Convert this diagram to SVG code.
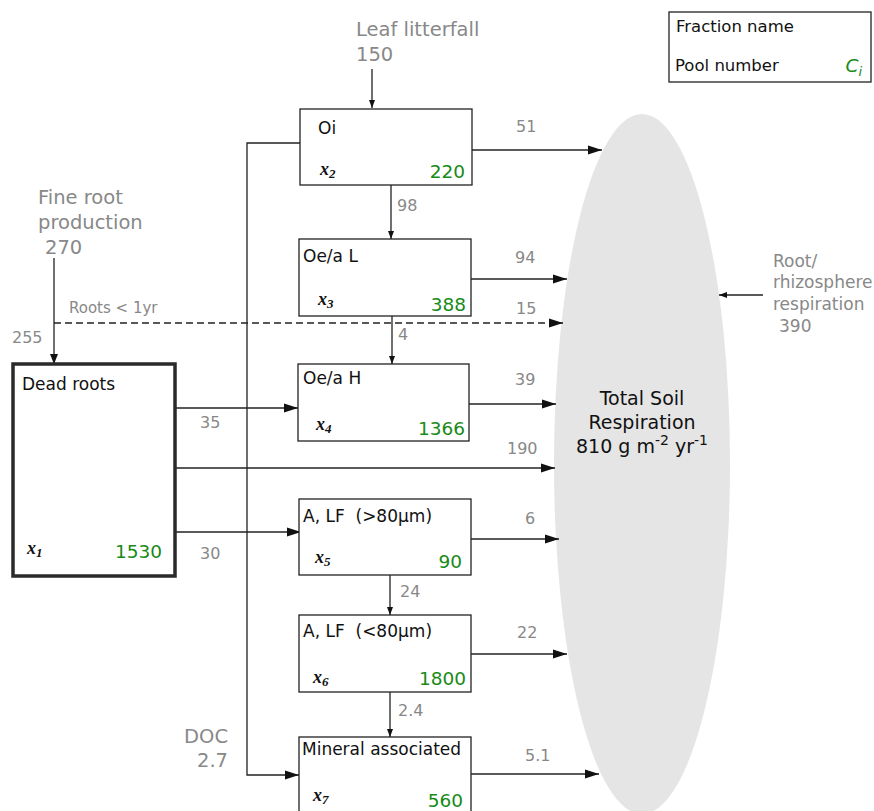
<svg xmlns="http://www.w3.org/2000/svg" width="874" height="811" viewBox="0 0 874 811">
<style>
  text { font-family: "DejaVu Sans", Verdana, sans-serif; }
  .box { fill: #fff; stroke: #222; stroke-width: 1.3; }
  .thick { fill: #fff; stroke: #2a2a2a; stroke-width: 3.5; }
  .title { font-size: 17px; fill: #111; }
  .val { font-size: 18.5px; fill: #178a17; text-anchor: end; }
  .xv { font-family: "Liberation Serif", "Times New Roman", serif; font-style: italic; font-weight: bold; font-size: 18px; fill: #111; }
  .sub { font-size: 13px; }
  .flow { font-size: 16px; fill: #888; }
  .src { font-size: 19.5px; fill: #888; }
  .c { fill: none; stroke: #222; stroke-width: 1.3; }
  .dash { stroke-dasharray: 7 4; }
</style>
<defs>
  <marker id="big" markerUnits="userSpaceOnUse" markerWidth="16" markerHeight="12" refX="15" refY="6" orient="auto">
    <path d="M1,1.5 L15,6 L1,10.5 Z" fill="#111"/>
  </marker>
  <marker id="mid" markerUnits="userSpaceOnUse" markerWidth="12" markerHeight="12" refX="11" refY="6" orient="auto">
    <path d="M1,2 L11,6 L1,10 Z" fill="#111"/>
  </marker>
  <marker id="small" markerUnits="userSpaceOnUse" markerWidth="10" markerHeight="10" refX="9" refY="5" orient="auto">
    <path d="M1,2 L9,5 L1,8 Z" fill="#111"/>
  </marker>
</defs>

<g id="soil-respiration">
  <ellipse cx="642" cy="464" rx="88" ry="350" fill="#e5e5e5"/>
  <text x="642" y="405" text-anchor="middle" font-size="19" fill="#111">Total Soil</text>
  <text x="642" y="429" text-anchor="middle" font-size="19" fill="#111">Respiration</text>
  <text x="642" y="453" text-anchor="middle" font-size="19" fill="#111">810 g m<tspan font-size="14" dy="-8">-2</tspan><tspan dy="8"> yr</tspan><tspan font-size="14" dy="-8">-1</tspan></text>
</g>

<g id="legend">
  <rect x="669" y="12" width="202" height="70" class="box"/>
  <text x="676" y="32" font-size="16.5" fill="#111">Fraction name</text>
  <text x="675" y="71" font-size="16.5" fill="#111">Pool number</text>
  <text x="862" y="72" font-size="18.5" fill="#178a17" font-style="italic" text-anchor="end">C<tspan font-size="13" dy="4">i</tspan></text>
</g>

<g id="connectors">
  <path class="c" d="M372,69 V108" marker-end="url(#small)"/>
  <path class="c" d="M391,185 V239" marker-end="url(#small)"/>
  <path class="c" d="M392,316 V364" marker-end="url(#small)"/>
  <path class="c" d="M390,575 V615" marker-end="url(#small)"/>
  <path class="c" d="M390,692 V737" marker-end="url(#small)"/>
  <path class="c" d="M54,258 V364" marker-end="url(#mid)"/>
  <path class="c dash" d="M54,323 H563" marker-end="url(#big)"/>
  <path class="c" d="M300,143 H247 V775 H299" marker-end="url(#big)"/>
  <path class="c" d="M175,408 H298" marker-end="url(#big)"/>
  <path class="c" d="M175,468 H555" marker-end="url(#big)"/>
  <path class="c" d="M175,532 H301" marker-end="url(#big)"/>
  <path class="c" d="M472,150 H602" marker-end="url(#big)"/>
  <path class="c" d="M471,279 H567" marker-end="url(#big)"/>
  <path class="c" d="M469,404 H556" marker-end="url(#big)"/>
  <path class="c" d="M471,539 H559" marker-end="url(#big)"/>
  <path class="c" d="M471,654 H567" marker-end="url(#big)"/>
  <path class="c" d="M471,774 H599" marker-end="url(#big)"/>
  <path class="c" d="M763,295 H719" marker-end="url(#small)"/>
</g>

<g id="labels">
  <text class="src" x="356" y="36">Leaf litterfall</text>
  <text class="src" x="356" y="61">150</text>
  <text class="src" x="38" y="204">Fine root</text>
  <text class="src" x="38" y="229">production</text>
  <text class="src" x="45" y="254">270</text>
  <text class="src" x="228" y="743" text-anchor="end">DOC</text>
  <text class="src" x="228" y="767" text-anchor="end">2.7</text>
  <text x="773" y="267" font-size="17" fill="#888">Root/</text>
  <text x="773" y="288" font-size="17" fill="#888">rhizosphere</text>
  <text x="773" y="310" font-size="17" fill="#888">respiration</text>
  <text x="779" y="332" font-size="17" fill="#888">390</text>
  <text x="69" y="313" font-size="15" fill="#888">Roots &lt; 1yr</text>
  <text class="flow" x="12" y="343">255</text>
  <text class="flow" x="397" y="211">98</text>
  <text class="flow" x="398" y="340">4</text>
  <text class="flow" x="400" y="597">24</text>
  <text class="flow" x="398" y="716">2.4</text>
  <text class="flow" x="200" y="428">35</text>
  <text class="flow" x="200" y="559">30</text>
  <text class="flow" x="507" y="454">190</text>
  <text class="flow" x="516" y="132">51</text>
  <text class="flow" x="515" y="263">94</text>
  <text class="flow" x="516" y="314">15</text>
  <text class="flow" x="515" y="385">39</text>
  <text class="flow" x="525" y="524">6</text>
  <text class="flow" x="517" y="638">22</text>
  <text class="flow" x="525" y="761">5.1</text>
</g>

<g id="x1-dead-roots">
  <rect x="13" y="364" width="162" height="212" class="thick"/>
  <text class="title" x="22" y="390">Dead roots</text>
  <text class="xv" x="27" y="554">x<tspan class="sub" dy="3">1</tspan></text>
  <text class="val" x="162" y="558">1530</text>
</g>

<g id="x2-oi">
  <rect x="300" y="109" width="172" height="76" class="box"/>
  <text class="title" x="318" y="134">Oi</text>
  <text class="xv" x="320" y="175">x<tspan class="sub" dy="3">2</tspan></text>
  <text class="val" x="465" y="178">220</text>
</g>

<g id="x3-oea-l">
  <rect x="299" y="239" width="172" height="77" class="box"/>
  <text class="title" x="303" y="262">Oe/a L</text>
  <text class="xv" x="318" y="305">x<tspan class="sub" dy="3">3</tspan></text>
  <text class="val" x="466" y="311">388</text>
</g>

<g id="x4-oea-h">
  <rect x="298" y="364" width="171" height="77" class="box"/>
  <text class="title" x="303" y="384">Oe/a H</text>
  <text class="xv" x="316" y="430">x<tspan class="sub" dy="3">4</tspan></text>
  <text class="val" x="465" y="435">1366</text>
</g>

<g id="x5-alf-coarse">
  <rect x="299" y="499" width="172" height="76" class="box"/>
  <text class="title" x="303" y="522">A, LF&#160; (&gt;80µm)</text>
  <text class="xv" x="315" y="563">x<tspan class="sub" dy="3">5</tspan></text>
  <text class="val" x="462" y="568">90</text>
</g>

<g id="x6-alf-fine">
  <rect x="299" y="615" width="172" height="77" class="box"/>
  <text class="title" x="303" y="637">A, LF&#160; (&lt;80µm)</text>
  <text class="xv" x="313" y="683">x<tspan class="sub" dy="3">6</tspan></text>
  <text class="val" x="466" y="685">1800</text>
</g>

<g id="x7-mineral">
  <rect x="299" y="737" width="172" height="90" class="box"/>
  <text class="title" x="302" y="755">Mineral associated</text>
  <text class="xv" x="313" y="801">x<tspan class="sub" dy="3">7</tspan></text>
  <text class="val" x="463" y="807">560</text>
</g>
</svg>
